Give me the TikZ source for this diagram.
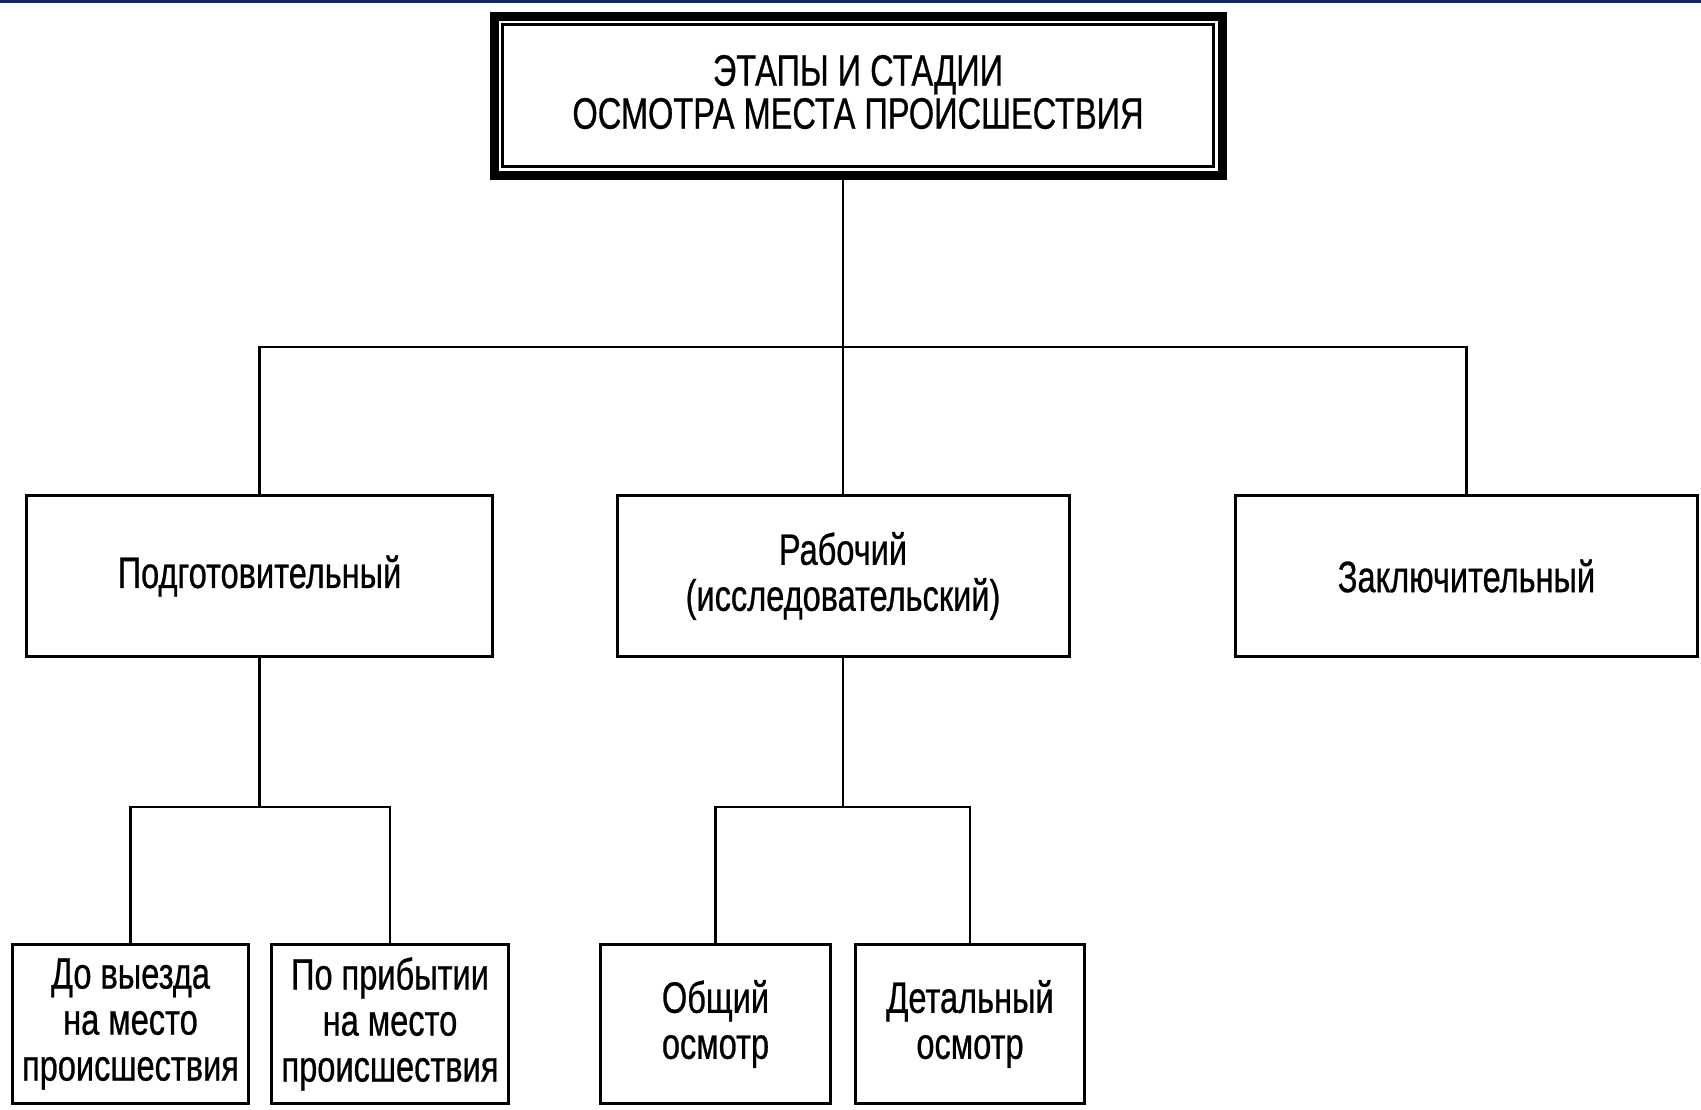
\documentclass[tikz,border=0pt]{standalone}
\usepackage{fontspec}
\setmainfont[FakeStretch=0.74,FakeBold=0.6]{Liberation Sans}
\usetikzlibrary{calc}
\definecolor{topblue}{HTML}{0D2A6B}
\begin{document}
\begin{tikzpicture}[x=1pt,y=-1pt,
  box/.style={draw,line width=3pt,rectangle,inner sep=0pt,align=center,
              font=\fontsize{44}{46}\selectfont},
  conn/.style={line width=2.6pt}]
\useasboundingbox (0,0) rectangle (1701,1109);
\fill[topblue] (0,0) rectangle (1701,3);
% title
\node[box,line width=9pt,minimum width=728pt,minimum height=159pt,
      font=\fontsize{44}{43}\selectfont] (top) at (858,95.5) {};
\node[align=center,inner sep=0pt,font=\fontsize{44}{43}\selectfont] (toptext) at (858,92)
  {ЭТАПЫ И СТАДИИ\\ОСМОТРА МЕСТА ПРОИСШЕСТВИЯ};
\draw[line width=3.5pt] ($(top.north west)+(13,13)$) rectangle ($(top.south east)+(-13,-13)$);
% stages
\node[box,minimum width=466pt,minimum height=161pt] (prep) at (259.5,576) {Подготовительный};
\node[box,minimum width=452pt,minimum height=161pt] (work) at (843,576) {Рабочий\\(исследовательский)};
\node[box,minimum width=462pt,minimum height=161pt] (concl) at (1466.5,576) {Заключительный};
% sub-stages
\node[box,minimum width=236pt,minimum height=159pt] (s1) at (130.5,1024) {До выезда\\на место\\происшествия};
\node[box,minimum width=237pt,minimum height=159pt] (s2) at (390,1024) {По прибытии\\на место\\происшествия};
\node[box,minimum width=230pt,minimum height=159pt] (s3) at (715.5,1024) {Общий\\осмотр};
\node[box,minimum width=229pt,minimum height=159pt] (s4) at (970,1024) {Детальный\\осмотр};
% connectors
\coordinate (bus1) at (0,347);
\coordinate (bus2) at (0,807);
\draw[conn] (top.south -| work.north) -- (work.north);
\draw[conn] (prep.north) -- (prep.north |- bus1) -- (concl.north |- bus1) -- (concl.north);
\draw[conn] (prep.south) -- (prep.south |- bus2);
\draw[conn] (s1.north) -- (s1.north |- bus2) -- (s2.north |- bus2) -- (s2.north);
\draw[conn] (work.south) -- (work.south |- bus2);
\draw[conn] (s3.north) -- (s3.north |- bus2) -- (s4.north |- bus2) -- (s4.north);
\end{tikzpicture}
\end{document}
